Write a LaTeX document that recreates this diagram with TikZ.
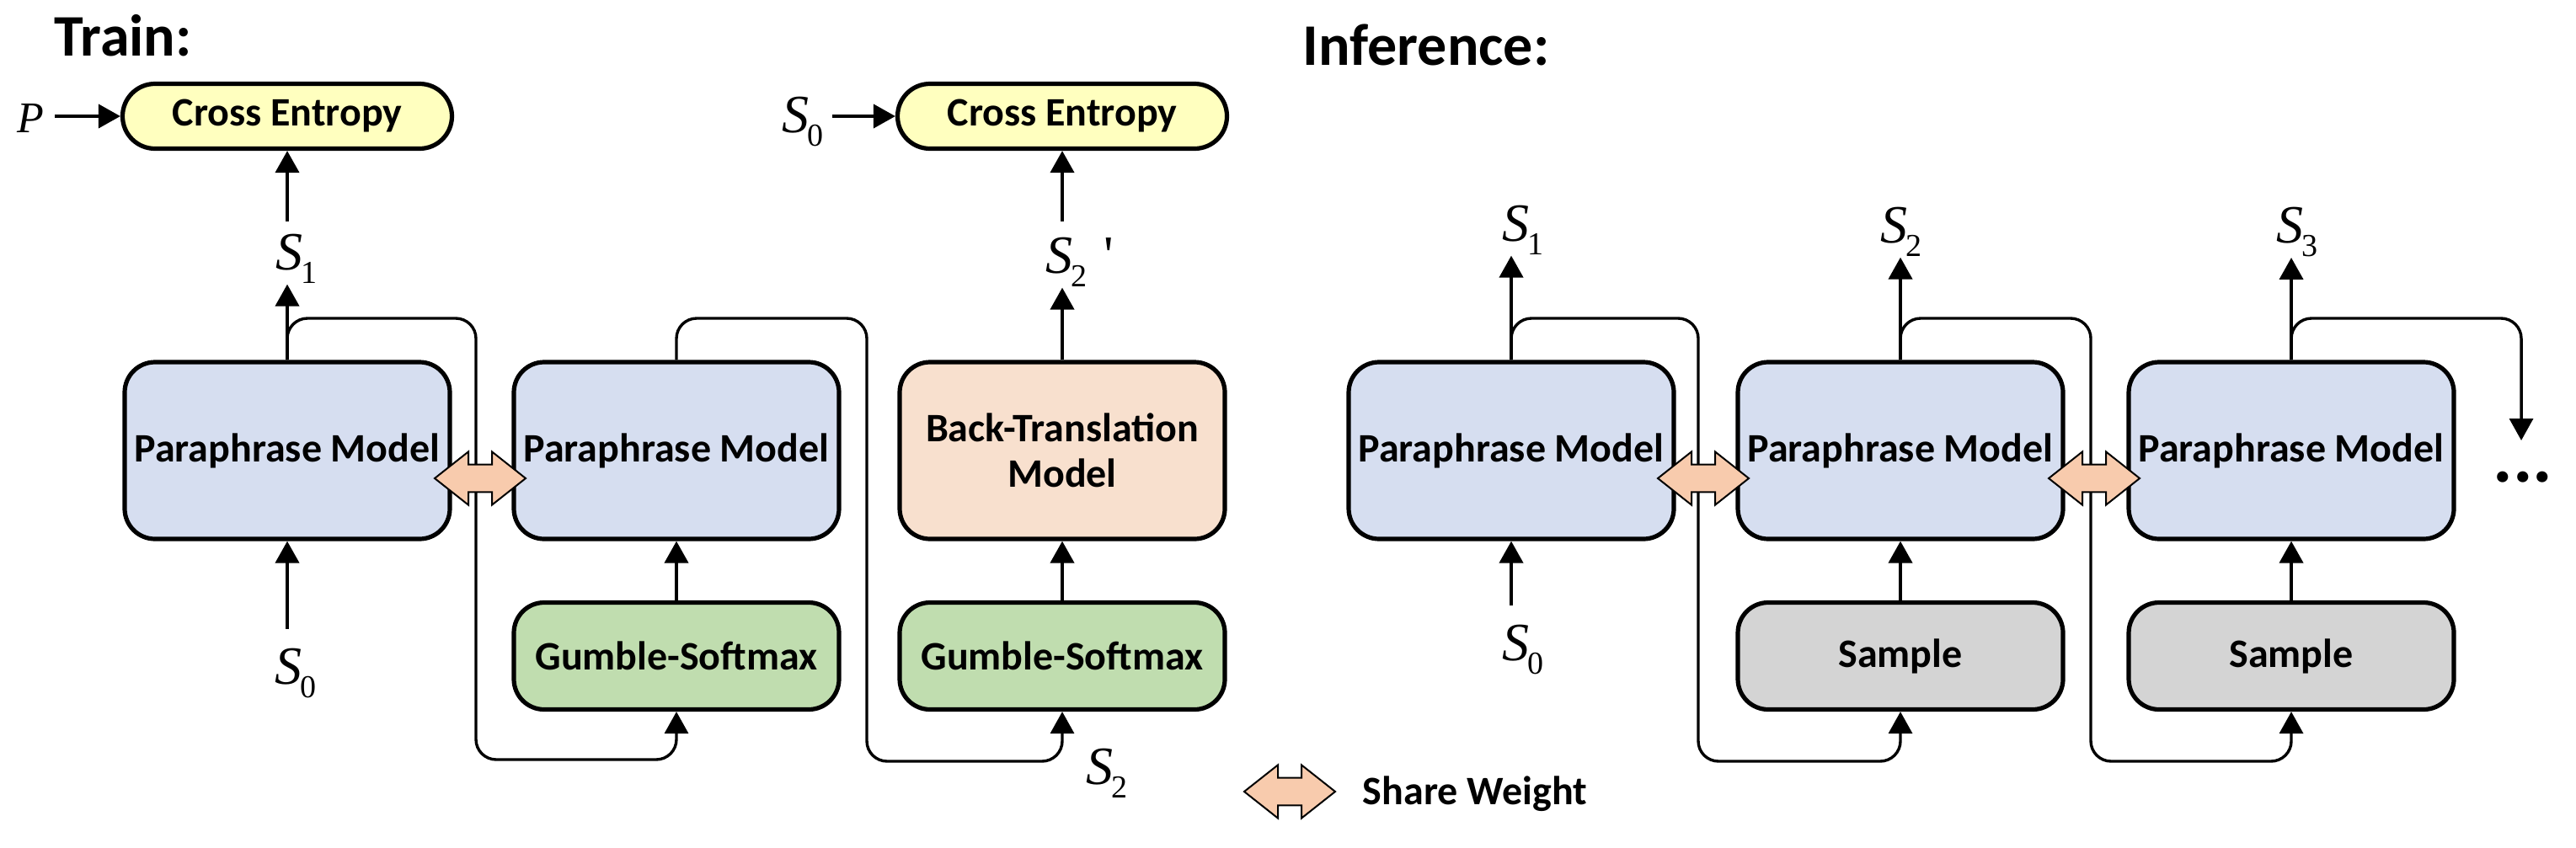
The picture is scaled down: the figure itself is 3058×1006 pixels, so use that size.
\documentclass[tikz,border=0pt]{standalone}
\usepackage{fontspec}
\setmainfont{Carlito}
\newfontfamily\timesfont{Liberation Serif}
\usetikzlibrary{arrows.meta}

\definecolor{ceyellow}{HTML}{FFFFBF}
\definecolor{pmblue}{HTML}{D6DEF0}
\definecolor{gsgreen}{HTML}{C0DDAF}
\definecolor{btpeach}{HTML}{F8E0CE}
\definecolor{smgray}{HTML}{D4D4D4}
\definecolor{shareorange}{HTML}{F8CBAD}

\newcommand{\svar}[1]{{\normalfont\timesfont\itshape\fontsize{16}{16}\selectfont S}\kern-0.6pt\raisebox{-4.2pt}{\normalfont\timesfont\fontsize{9.5}{9.5}\selectfont #1}}

\tikzset{share/.pic={
  \draw[fill=shareorange, line width=0.5pt, line join=miter]
    (-13.5pt,0pt) -- (-3.5pt,7.9pt) -- (-3.5pt,4.1pt) -- (3.5pt,4.1pt) -- (3.5pt,7.9pt)
    -- (13.5pt,0pt) -- (3.5pt,-7.9pt) -- (3.5pt,-4.1pt) -- (-3.5pt,-4.1pt) -- (-3.5pt,-7.9pt) -- cycle;
}}

\begin{document}
\begin{tikzpicture}[x=0.25pt, y=-0.25pt, >={Triangle[length=6.5pt,width=7pt]},
    font=\bfseries\fontsize{12}{13.5}\selectfont]
    \tikzstyle{model}=[draw, line width=1.3pt, rounded corners=9pt, fill=pmblue,
      minimum width=96.5pt, minimum height=52.5pt, inner sep=0pt, align=center]
    \tikzstyle{gate}=[model, minimum height=31.75pt, fill=gsgreen]
    \tikzstyle{loss}=[model, minimum width=97.75pt, minimum height=19.25pt,
      rounded corners=9.6pt, fill=ceyellow]
    \tikzstyle{head}=[anchor=base west, inner sep=0pt, font=\bfseries\fontsize{17.5}{20}\selectfont]
    \tikzstyle{var}=[anchor=base west, inner sep=0pt]
    \tikzstyle{conn}=[->, line width=1pt]
    \tikzstyle{feed}=[->, line width=0.85pt, rounded corners=6pt]
    \useasboundingbox (0,0) rectangle (3058,1006);

    % train
    \node[head] (train) at (64,66) {Train:};
    \node[loss] (ce1) at (341,138) {Cross Entropy};
    \node[var] (p) at (20,157) {\normalfont\timesfont\itshape\fontsize{13}{13}\selectfont P};
    \node[var] (s1t) at (327,320) {\svar{1}};
    \node[model] (pm1) at (341,535) {Paraphrase Model};
    \node[var] (s0t) at (326,812) {\svar{0}};
    \node[model] (pm2) at (803,535) {Paraphrase Model};
    \node[gate] (gs1) at (803,779) {Gumble-Softmax};
    \node[loss] (ce2) at (1261,138) {Cross Entropy};
    \node[var] (s0c) at (928,157) {\svar{0}};
    \node[var] (s2p) at (1241,324) {\svar{2}\hspace{5pt}{\normalfont\timesfont\fontsize{16}{16}\selectfont\textquotesingle}};
    \node[model, fill=btpeach] (bt) at (1261,535) {Back-Translation\\Model};
    \node[gate] (gs2) at (1261,779) {Gumble-Softmax};
    \node[var] (s2b) at (1289,931) {\svar{2}};
    \coordinate (j1) at (565,378);
    \coordinate (k1) at (565,902);
    \coordinate (j2) at (1029,378);
    \coordinate (k2) at (1029,904);

    \draw[conn, shorten <=3pt] (p.east |- ce1.west) -- (ce1.west);
    \draw[conn, shorten <=3.5pt] (s1t.north -| ce1.south) -- (ce1.south);
    \draw[conn] (pm1.north) -- (s1t.south -| pm1.north);
    \draw[conn, shorten <=5.5pt] (s0t.north -| pm1.south) -- (pm1.south);
    \draw[feed] (pm1.north) |- (j1) -- (k1) -| (gs1.south);
    \draw[conn] (gs1) -- (pm2);
    \draw[feed] (pm2.north) |- (j2) -- (k2) -| (gs2.south);
    \draw[conn, shorten <=2.5pt] (s0c.east |- ce2.west) -- (ce2.west);
    \draw[conn, shorten <=4.5pt] (s2p.north -| ce2.south) -- (ce2.south);
    \draw[conn] (bt.north) -- (s2p.south -| bt.north);
    \draw[conn] (gs2) -- (bt);

    % inference
    \node[head] (infer) at (1546,77) {Inference:};
    \node[model] (pm3) at (1794,535) {Paraphrase Model};
    \node[var] (s1i) at (1783,286) {\svar{1}};
    \node[var] (s0i) at (1783,784) {\svar{0}};
    \node[model] (pm4) at (2256,535) {Paraphrase Model};
    \node[gate, fill=smgray] (sm1) at (2256,779) {Sample};
    \node[var] (s2i) at (2232,288) {\svar{2}};
    \node[model] (pm5) at (2720,535) {Paraphrase Model};
    \node[gate, fill=smgray] (sm2) at (2720,779) {Sample};
    \node[var] (s3i) at (2702,288) {\svar{3}};
    \node[anchor=base, inner sep=0pt, font=\bfseries\fontsize{22}{22}\selectfont] (dots) at (2995,572) {...};
    \coordinate (j3) at (2016,378);
    \coordinate (k3) at (2016,904);
    \coordinate (j4) at (2482,378);
    \coordinate (k4) at (2482,904);
    \coordinate (j5) at (2993,378);
    \coordinate (k5) at (2993,523);

    \draw[conn] (pm3.north) -- (s1i.south -| pm3.north);
    \draw[conn, shorten <=5.5pt] (s0i.north -| pm3.south) -- (pm3.south);
    \draw[feed] (pm3.north) |- (j3) -- (k3) -| (sm1.south);
    \draw[conn] (sm1) -- (pm4);
    \draw[conn] (pm4.north) -- (s2i.south -| pm4.north);
    \draw[feed] (pm4.north) |- (j4) -- (k4) -| (sm2.south);
    \draw[conn] (sm2) -- (pm5);
    \draw[conn] (pm5.north) -- (s3i.south -| pm5.north);
    \draw[feed] (pm5.north) |- (j5) -- (k5);

    % share weight
    \pic at (570,568) {share};
    \pic at (2022,568) {share};
    \pic at (2486,568) {share};
    \pic at (1531,940) {share};
    \node[anchor=base west, inner sep=0pt] (sw) at (1617,955) {Share Weight};
\end{tikzpicture}
\end{document}
